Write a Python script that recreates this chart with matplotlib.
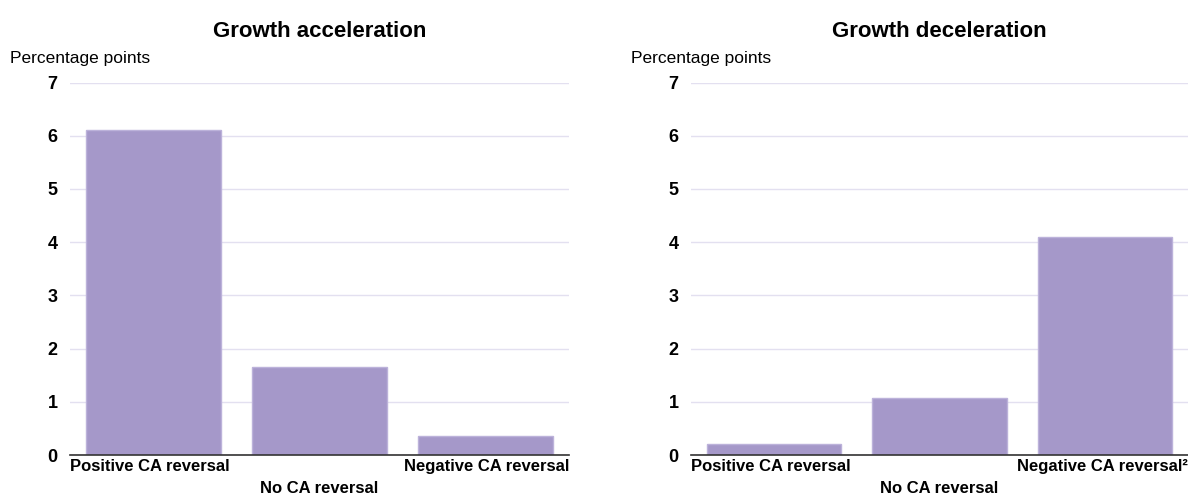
import matplotlib.pyplot as plt
from matplotlib.transforms import offset_copy

plt.rcParams['font.family'] = ['Liberation Sans', 'DejaVu Sans']

categories = ["Positive CA reversal", "No CA reversal", "Negative CA reversal"]
accel_values = [6.1, 1.65, 0.36]
decel_values = [0.2, 1.07, 4.1]
decel_labels = ["Positive CA reversal", "No CA reversal", "Negative CA reversal\u00b2"]
titles = ["Growth acceleration", "Growth deceleration"]
yticks = [0, 1, 2, 3, 4, 5, 6, 7]

bar_color = "#A598C9"
grid_color = "#E3E0F0"

fig = plt.figure(figsize=(11.88, 4.97), dpi=100)
ax1 = fig.add_axes([70 / 1188, 42 / 497, 499 / 1188, 372.5 / 497])
ax2 = fig.add_axes([691 / 1188, 42 / 497, 497 / 1188, 372.5 / 497])


def draw_panel(ax, values, labels, title, ylab_x):
    x = list(range(len(values)))
    ax.bar(x, values, width=0.81, color=bar_color, edgecolor="#BCB2DA",
           linewidth=1, zorder=2)
    ax.set_xlim(-0.5, 2.5)
    ax.set_ylim(0, 7)
    ax.set_yticks(yticks)
    ax.set_yticklabels([str(t) for t in yticks], fontsize=13, fontweight="bold")
    ax.yaxis.grid(True, color=grid_color, linewidth=1, zorder=0)
    ax.set_axisbelow(True)
    ax.tick_params(axis="y", length=0, pad=9)
    ax.tick_params(axis="x", length=0)
    ax.set_xticks([])
    for side in ["top", "right", "left"]:
        ax.spines[side].set_visible(False)
    ax.spines["bottom"].set_color("#333333")
    ax.spines["bottom"].set_linewidth(1.2)
    ax.spines["bottom"].set_zorder(3)

    # category labels: outer ones pinned to the axis edges, middle one staggered
    trans = ax.get_xaxis_transform()
    up = offset_copy(trans, fig=fig, y=-3, units="points")
    down = offset_copy(trans, fig=fig, y=-19, units="points")
    ax.text(-0.5, 0, labels[0], transform=up, ha="left", va="top",
            fontsize=12, fontweight="bold")
    ax.text(1, 0, labels[1], transform=down, ha="center", va="top",
            fontsize=12, fontweight="bold")
    ax.text(2.5, 0, labels[2], transform=up, ha="right", va="top",
            fontsize=12, fontweight="bold")

    ax.set_title(title, fontsize=16, fontweight="bold", pad=33)
    fig.text(ylab_x / 1188, 1 - 58 / 497, "Percentage points", fontsize=12.5,
             ha="left", va="center")


draw_panel(ax1, accel_values, categories, titles[0], 10)
draw_panel(ax2, decel_values, decel_labels, titles[1], 631)

fig.savefig("out.png", dpi=100)
